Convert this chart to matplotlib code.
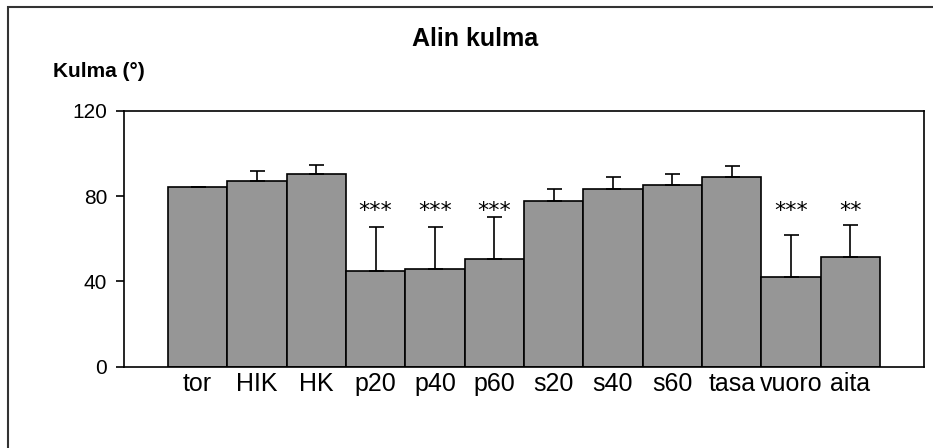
import matplotlib
matplotlib.use("Agg")
import matplotlib.pyplot as plt
from matplotlib.patches import Rectangle
import numpy as np

plt.rcParams['font.family'] = ['Liberation Sans', 'DejaVu Sans']

labels = ["tor", "HIK", "HK", "p20", "p40", "p60", "s20", "s40", "s60", "tasa", "vuoro", "aita"]
means = [84.4, 87.2, 90.2, 44.9, 45.9, 50.6, 77.7, 83.4, 85.3, 88.9, 42.2, 51.6]
errs = [0, 4.7, 4.5, 20.6, 19.6, 19.7, 5.7, 5.7, 4.9, 5.0, 19.5, 15.0]
stars = ["", "", "", "***", "***", "***", "", "", "", "", "***", "**"]

fig = plt.figure(figsize=(9.33, 4.48), dpi=100)
ax = fig.add_axes([124/933, 1 - 366.7/448, 800/933, 256/448])

x = np.arange(len(labels))
ax.bar(x, means, width=1.0, color="#969696", edgecolor="black", linewidth=1.2, zorder=2)
ax.errorbar(x, means, yerr=[np.zeros(len(errs)), errs], fmt="none", ecolor="black",
            elinewidth=1.2, capsize=5.4, capthick=1.2, zorder=3)
for i in range(len(labels)):
    if stars[i]:
        ax.text(x[i], 73, stars[i], ha="center", va="center", fontsize=16, family="DejaVu Sans")

ax.set_xlim(-1.24, 12.24)
ax.set_ylim(0, 120)
ax.set_yticks([0, 40, 80, 120])
ax.tick_params(axis="y", direction="out", length=6, width=1.2, labelsize=15, pad=6)
ax.set_xticks(x)
ax.set_xticklabels(labels, fontsize=18)
ax.tick_params(axis="x", length=0, pad=3.5)
for s in ax.spines.values():
    s.set_linewidth(1.2)

fig.text(475/933, 1 - 46/448, "Alin kulma", ha="center", va="baseline", fontsize=18, fontweight="bold")
fig.text(53/933, 1 - 77/448, "Kulma (°)", ha="left", va="baseline", fontsize=15, fontweight="bold")

fig.patches.append(Rectangle((8/933, -0.1), 1.2, 1 - 7/448 + 0.1, transform=fig.transFigure,
                             fill=False, edgecolor="#333333", linewidth=1.5))

fig.savefig("out.png", dpi=100)
